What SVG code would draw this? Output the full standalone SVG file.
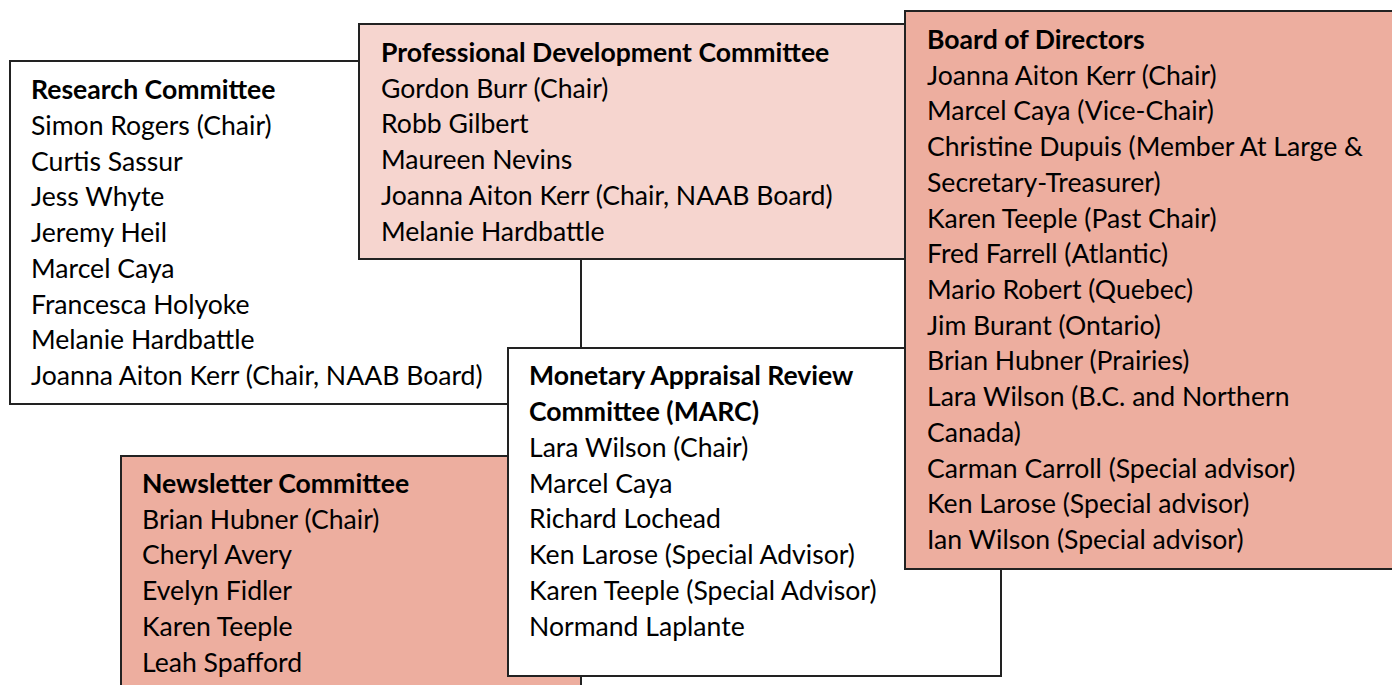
<svg xmlns="http://www.w3.org/2000/svg" width="1392" height="685" viewBox="0 0 1392 685">
  <style>
    .box { stroke: #222222; stroke-width: 2; }
    .plain { fill: #ffffff; }
    .light { fill: #f6d5cf; }
    .salmon { fill: #edae9f; }
    text { font-family: Lato, "Open Sans", "Liberation Sans", sans-serif; font-size: 26.6px; fill: #000000; }
    .head { font-weight: bold; }
  </style>
  <rect x="0" y="0" width="1392" height="685" fill="#ffffff"/>

  <!-- Research Committee -->
  <g id="research">
    <rect class="box plain" x="10" y="61" width="571" height="343"/>
    <text x="31" y="99">
      <tspan class="head" x="31" dy="0">Research Committee</tspan>
      <tspan x="31" dy="35.75">Simon Rogers (Chair)</tspan>
      <tspan x="31" dy="35.75">Curtis Sassur</tspan>
      <tspan x="31" dy="35.75">Jess Whyte</tspan>
      <tspan x="31" dy="35.75">Jeremy Heil</tspan>
      <tspan x="31" dy="35.75">Marcel Caya</tspan>
      <tspan x="31" dy="35.75">Francesca Holyoke</tspan>
      <tspan x="31" dy="35.75">Melanie Hardbattle</tspan>
      <tspan x="31" dy="35.75">Joanna Aiton Kerr (Chair, NAAB Board)</tspan>
    </text>
  </g>

  <!-- Professional Development Committee -->
  <g id="prof-dev">
    <rect class="box light" x="359" y="24" width="560" height="235"/>
    <text x="381" y="62">
      <tspan class="head" x="381" dy="0">Professional Development Committee</tspan>
      <tspan x="381" dy="35.7">Gordon Burr (Chair)</tspan>
      <tspan x="381" dy="35.7">Robb Gilbert</tspan>
      <tspan x="381" dy="35.7">Maureen Nevins</tspan>
      <tspan x="381" dy="35.7">Joanna Aiton Kerr (Chair, NAAB Board)</tspan>
      <tspan x="381" dy="35.7">Melanie Hardbattle</tspan>
    </text>
  </g>

  <!-- Newsletter Committee -->
  <g id="newsletter">
    <rect class="box salmon" x="121" y="456" width="460" height="300"/>
    <text x="142" y="493">
      <tspan class="head" x="142" dy="0">Newsletter Committee</tspan>
      <tspan x="142" dy="35.7">Brian Hubner (Chair)</tspan>
      <tspan x="142" dy="35.7">Cheryl Avery</tspan>
      <tspan x="142" dy="35.7">Evelyn Fidler</tspan>
      <tspan x="142" dy="35.7">Karen Teeple</tspan>
      <tspan x="142" dy="35.7">Leah Spafford</tspan>
    </text>
  </g>

  <!-- Monetary Appraisal Review Committee -->
  <g id="marc">
    <rect class="box plain" x="508" y="348" width="493" height="328"/>
    <text x="529" y="385">
      <tspan class="head" x="529" dy="0">Monetary Appraisal Review</tspan>
      <tspan class="head" x="529" dy="35.85">Committee (MARC)</tspan>
      <tspan x="529" dy="35.85">Lara Wilson (Chair)</tspan>
      <tspan x="529" dy="35.85">Marcel Caya</tspan>
      <tspan x="529" dy="35.85">Richard Lochead</tspan>
      <tspan x="529" dy="35.85">Ken Larose (Special Advisor)</tspan>
      <tspan x="529" dy="35.85">Karen Teeple (Special Advisor)</tspan>
      <tspan x="529" dy="35.85">Normand Laplante</tspan>
    </text>
  </g>

  <!-- Board of Directors -->
  <g id="board">
    <rect class="box salmon" x="905" y="11" width="500" height="558"/>
    <text x="927" y="49">
      <tspan class="head" x="927" dy="0">Board of Directors</tspan>
      <tspan x="927" dy="35.72">Joanna Aiton Kerr (Chair)</tspan>
      <tspan x="927" dy="35.72">Marcel Caya (Vice-Chair)</tspan>
      <tspan x="927" dy="35.72">Christine Dupuis (Member At Large &amp;</tspan>
      <tspan x="927" dy="35.72">Secretary-Treasurer)</tspan>
      <tspan x="927" dy="35.72">Karen Teeple (Past Chair)</tspan>
      <tspan x="927" dy="35.72">Fred Farrell (Atlantic)</tspan>
      <tspan x="927" dy="35.72">Mario Robert (Quebec)</tspan>
      <tspan x="927" dy="35.72">Jim Burant (Ontario)</tspan>
      <tspan x="927" dy="35.72">Brian Hubner (Prairies)</tspan>
      <tspan x="927" dy="35.72">Lara Wilson (B.C. and Northern</tspan>
      <tspan x="927" dy="35.72">Canada)</tspan>
      <tspan x="927" dy="35.72">Carman Carroll (Special advisor)</tspan>
      <tspan x="927" dy="35.72">Ken Larose (Special advisor)</tspan>
      <tspan x="927" dy="35.72">Ian Wilson (Special advisor)</tspan>
    </text>
  </g>
</svg>
